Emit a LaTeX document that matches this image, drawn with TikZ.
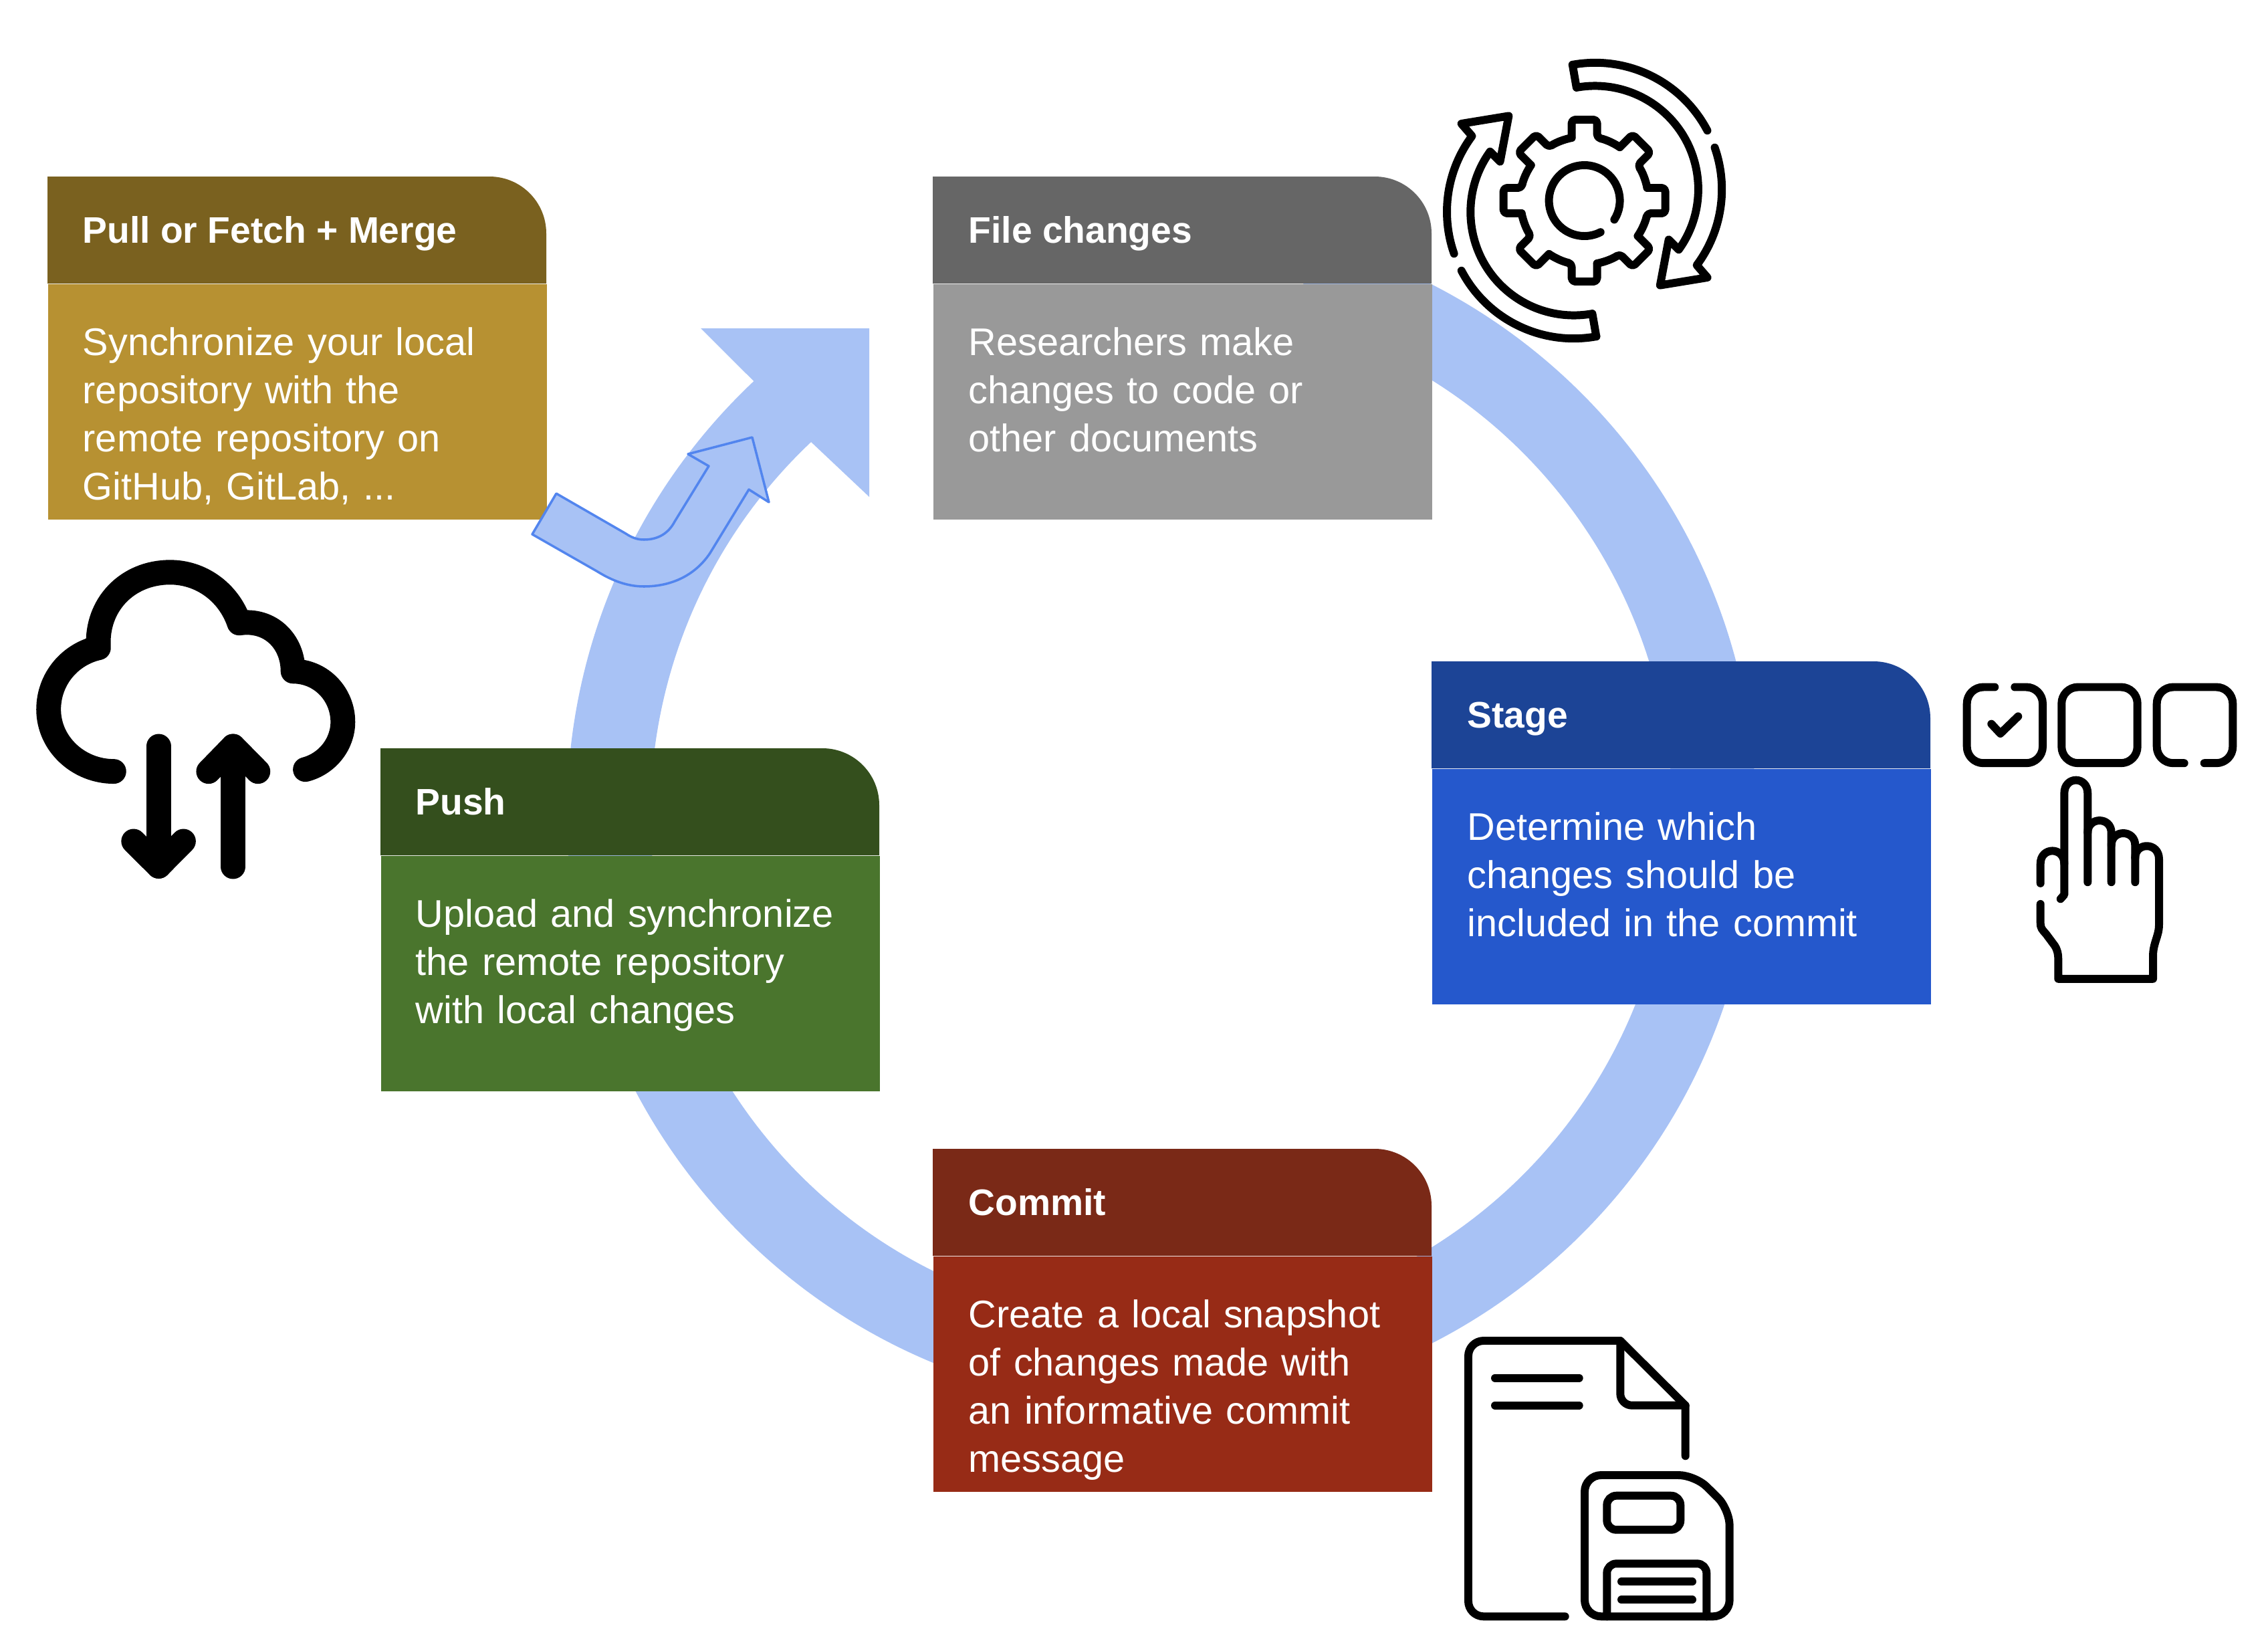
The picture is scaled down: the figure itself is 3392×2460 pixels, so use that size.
\documentclass[tikz,border=0pt]{standalone}
\usepackage{fontspec}
\setmainfont{Liberation Sans}
\definecolor{ringblue}{HTML}{A8C2F5}
\definecolor{ringline}{HTML}{5285EE}
\definecolor{pullhead}{HTML}{7A611F}
\definecolor{pullbody}{HTML}{B79132}
\definecolor{filehead}{HTML}{666666}
\definecolor{filebody}{HTML}{999999}
\definecolor{stagehead}{HTML}{1C4496}
\definecolor{stagebody}{HTML}{2558CC}
\definecolor{pushhead}{HTML}{344F1D}
\definecolor{pushbody}{HTML}{4A752D}
\definecolor{commithead}{HTML}{7A2917}
\definecolor{commitbody}{HTML}{972B16}
\tikzset{
  cardtitle/.style={anchor=base west, inner sep=0pt, text=white, font=\fontsize{15.7}{19}\selectfont\bfseries},
  cardbody/.style={anchor=north west, inner sep=0pt, minimum width=7.46cm, minimum height=3.52cm},
  cardtext/.style={anchor=north west, inner sep=0pt, text=white, text width=6.8cm, align=left,
    font=\fontsize{16.4}{20.5}\selectfont, execute at begin node=\strut},
  icon/.style={line width=3.4pt, line cap=round, line join=round},
  bigicon/.style={line width=10.5pt, line cap=round, line join=round}
}
% header band with its one round corner
\newcommand{\headfill}[3]{\fill[#3] (#1,#2) ++(0,160) -- ++(0,-160) -- ++(661,0)
  arc[start angle=-90, end angle=0, radius=85] -- ++(0,75) -- cycle;}
\begin{document}
\begin{tikzpicture}[x=0.01cm, y=-0.01cm]
\useasboundingbox (0,0) rectangle (3392,2460);

% Ring
\coordinate (ringC) at (1737,1217);
\fill[ringblue] (1048,491) -- ([shift={(226.7:889)}]ringC)
    arc[start angle=226.7, end angle=-75, radius=889]
    -- ([shift={(-75:764)}]ringC)
    arc[start angle=-75, end angle=226.7, radius=764]
    -- (1300,743) -- (1300,491) -- cycle;

% Pull card
\headfill{71}{264}{pullhead}
\node[cardtitle] (pullT) at (123,363) {Pull or Fetch + Merge};
\node[cardbody, fill=pullbody] (pullB) at (71,424) {};
\node[cardtext] (pullX) at ([xshift=0.52cm, yshift=-0.56cm]pullB.north west)
    {Synchronize your local\\repository with the\\remote repository on\\GitHub, GitLab, ...};

% File card
\headfill{1395}{264}{filehead}
\node[cardtitle] (fileT) at (1448,363) {File changes};
\node[cardbody, fill=filebody] (fileB) at (1395,424) {};
\node[cardtext] (fileX) at ([xshift=0.53cm, yshift=-0.56cm]fileB.north west)
    {Researchers make\\changes to code or\\other documents};

% Stage card
\headfill{2141}{989}{stagehead}
\node[cardtitle] (stageT) at (2194,1088) {Stage};
\node[cardbody, fill=stagebody] (stageB) at (2141,1149) {};
\node[cardtext] (stageX) at ([xshift=0.53cm, yshift=-0.56cm]stageB.north west)
    {Determine which\\changes should be\\included in the commit};

% Push card
\headfill{569}{1119}{pushhead}
\node[cardtitle] (pushT) at (621,1218) {Push};
\node[cardbody, fill=pushbody] (pushB) at (569,1279) {};
\node[cardtext] (pushX) at ([xshift=0.52cm, yshift=-0.56cm]pushB.north west)
    {Upload and synchronize\\the remote repository\\with local changes};

% Commit card
\headfill{1395}{1718}{commithead}
\node[cardtitle] (commitT) at (1448,1817) {Commit};
\node[cardbody, fill=commitbody] (commitB) at (1395,1878) {};
\node[cardtext] (commitX) at ([xshift=0.53cm, yshift=-0.56cm]commitB.north west)
    {Create a local snapshot\\of changes made with\\an informative commit\\message};

% Small arrow over the ring
\draw[fill=ringblue, draw=ringline, line width=1pt, line join=round]
    (832,738) -- (796,799) -- (894,855)
    .. controls (915,868) and (938,877) .. (963,877)
    .. controls (1005,877) and (1040,860) .. (1062,827)
    -- (1120,732) -- (1150,751) -- (1125,654) -- (1029,679) -- (1060,697) -- (1009,780)
    .. controls (1000,797) and (985,807) .. (963,807)
    .. controls (953,807) and (945,804) .. (936,798) -- cycle;

% Gear icon
\foreach \cx/\cy/\turn in {2385.7/283.3/0, 2353.5/316.7/180} {
  \begin{scope}[shift={(\cx,\cy)}, rotate=\turn, icon]
    \draw (-100.3:189.5) arc[start angle=-100.3, end angle=-27.7, radius=189.5];
    \draw (-19.3:189.5) arc[start angle=-19.3, end angle=36.7, radius=189.5]
        -- (167.9,131.7) -- (97.1,143.3) -- (110,75) -- (125,90)
        arc[start angle=35.8, end angle=-100.3, radius=154.5] -- (-100.3:189.5);
  \end{scope}
}
\begin{scope}[shift={(2369.6,300)}, icon]
  \foreach \a in {0,45,...,315}
    \draw[rotate=\a, rounded corners=1.5pt] (-19,-94) -- (-19,-121) -- (19,-121) -- (19,-94)
        arc[start angle=-78.5, end angle=-56.5, radius=95.9];
  \draw (32.4:53) arc[start angle=32.4, end angle=-297.1, radius=53];
\end{scope}

% Cloud icon
\draw[bigicon] (170.3,1153.6)
    .. controls (117,1153.6) and (72.7,1112) .. (72.7,1061)
    .. controls (72.7,1015) and (105,978) .. (147.3,968.7)
    .. controls (143,905) and (190,855.8) .. (254.5,855.8)
    .. controls (300,855.8) and (342,885) .. (357.8,931.7)
    .. controls (405,925) and (438.2,960) .. (438.2,1003.8)
    .. controls (480,1003.8) and (512.8,1038) .. (512.8,1079.7)
    .. controls (512.8,1112) and (490,1142) .. (456.6,1150.7);
\draw[bigicon] (237.3,1116) -- (237.3,1295.4);
\draw[bigicon] (199.8,1258) -- (237.3,1295.4) -- (274.4,1258);
\draw[bigicon] (348.6,1296) -- (348.6,1116);
\draw[bigicon] (311.9,1153.7) -- (348.6,1116) -- (385.8,1153.7);

% Checkbox row and hand icon
\draw[icon, rounded corners=7pt] (2983.3,1027.5) -- (2941.7,1027.5) -- (2941.7,1141.2)
    -- (3055,1141.2) -- (3055,1027.5) -- (3013.3,1027.5);
\draw[icon] (2978.3,1082.6) -- (2991.7,1097) -- (3018.3,1071.3);
\draw[icon, rounded corners=7pt] (3083.3,1027.5) rectangle (3196.7,1141.2);
\draw[icon, rounded corners=7pt] (3266.7,1141.2) -- (3225.7,1141.2) -- (3225.7,1027.5)
    -- (3339.3,1027.5) -- (3339.3,1141.2) -- (3296.7,1141.2);
\draw[icon] (3081.7,1344.3) -- (3087.3,1338) -- (3087.3,1186.6)
    .. controls (3087.3,1160) and (3122.3,1160) .. (3122.3,1186.6) -- (3122.3,1319.2);
\draw[icon] (3051.7,1320.9) -- (3051.7,1291.6)
    .. controls (3051.7,1266) and (3087.3,1266) .. (3087.3,1291.6);
\draw[icon] (3122.3,1245.2) .. controls (3122.3,1221) and (3157.7,1221) .. (3157.7,1245.2) -- (3157.7,1319.2);
\draw[icon] (3157.7,1264.1) .. controls (3157.7,1240) and (3193.3,1240) .. (3193.3,1264.1) -- (3193.3,1319.2);
\draw[icon] (3193.3,1283) .. controls (3193.3,1259) and (3229,1259) .. (3229,1284.8)
    -- (3229,1382.9) .. controls (3229,1400) and (3220,1410) .. (3220,1430)
    -- (3220,1463.8) -- (3078.3,1463.8) -- (3078.3,1434.5)
    .. controls (3078.3,1425) and (3076,1419) .. (3073.3,1414.6)
    -- (3060,1396.7) .. controls (3054,1390) and (3051.7,1388) .. (3051.7,1380) -- (3051.7,1351.9);

% Document and disk icon
\draw[icon, rounded corners=6.5pt] (2340.7,2417.3) -- (2196,2417.3) -- (2196,2005) -- (2300,2005);
\draw[icon] (2300,2005) -- (2423.3,2005) -- (2520.7,2101.7) -- (2520.7,2177.3);
\draw[icon, rounded corners=5pt] (2423.3,2005) -- (2423.3,2101.7) -- (2520.7,2101.7);
\draw[icon] (2236,2060.7) -- (2361.7,2060.7);
\draw[icon] (2236,2101.7) -- (2361.7,2101.7);
\draw[icon, rounded corners=7pt] (2370,2206) -- (2535,2206) -- (2586.7,2257)
    -- (2586.7,2417.3) -- (2370,2417.3) -- cycle;
\draw[icon, rounded corners=4pt] (2403.3,2236.7) rectangle (2513.3,2287.7);
\draw[icon, rounded corners=4pt] (2403.3,2417.3) -- (2403.3,2338.3) -- (2552.3,2338.3) -- (2552.3,2417.3);
\draw[icon] (2425,2365.3) -- (2531,2365.3);
\draw[icon] (2425,2392.3) -- (2531,2392.3);
\end{tikzpicture}
\end{document}
